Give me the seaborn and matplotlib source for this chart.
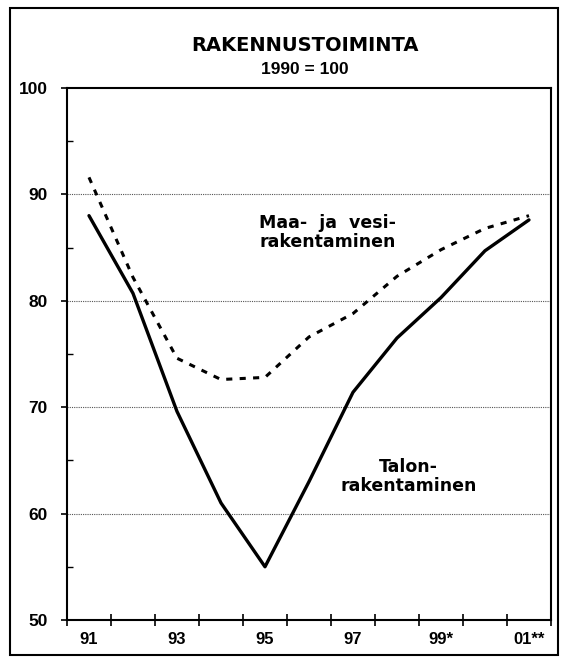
import numpy as np
import pandas as pd
import seaborn as sns
import matplotlib.pyplot as plt
from matplotlib.patches import Rectangle

# data (index 1990 = 100)
years = ["91", "92", "93", "94", "95", "96", "97", "98", "99", "00", "01"]
tick_labels = ["91", "", "93", "", "95", "", "97", "", "99*", "", "01**"]
talon = [88.0, 80.7, 69.6, 61.0, 55.0, 63.0, 71.4, 76.5, 80.3, 84.7, 87.6]
maa_vesi = [91.6, 82.2, 74.6, 72.6, 72.8, 76.6, 78.8, 82.3, 84.8, 86.8, 88.0]

df = pd.DataFrame({
    "pos": np.arange(len(years)),
    "Talonrakentaminen": talon,
    "Maa- ja vesirakentaminen": maa_vesi,
})

sns.set_theme(style="white")
plt.rcParams["font.family"] = ["Liberation Sans", "DejaVu Sans"]
plt.rcParams["text.color"] = "black"
plt.rcParams["xtick.color"] = "black"
plt.rcParams["ytick.color"] = "black"

fig = plt.figure(figsize=(5.62, 6.65), dpi=100)
ax = fig.add_axes([0.1192, 0.0677, 0.8612, 0.8])

sns.lineplot(data=df, x="pos", y="Talonrakentaminen", ax=ax,
             color="black", lw=2.4)
sns.lineplot(data=df, x="pos", y="Maa- ja vesirakentaminen", ax=ax,
             color="black", lw=2.2, linestyle=(0, (2, 2.4)))

ax.set_xlim(-0.5, len(years) - 0.5)
ax.set_ylim(50, 100)
ax.set_xlabel("")
ax.set_ylabel("")

# x: labels at year centres, tick marks at the boundaries
ax.set_xticks(np.arange(len(years)))
ax.set_xticklabels(tick_labels, fontsize=12, fontweight="bold")
ax.set_xticks(np.arange(-0.5, len(years), 1), minor=True)
ax.tick_params(axis="x", which="major", length=0, pad=9)
ax.tick_params(axis="x", which="minor", direction="inout", length=8,
               width=1.2, bottom=True)

ax.set_yticks(np.arange(50, 101, 10))
ax.set_yticklabels([str(v) for v in range(50, 101, 10)], fontsize=12.5,
                   fontweight="bold")
ax.set_yticks(np.arange(55, 100, 10), minor=True)
ax.tick_params(axis="y", which="major", direction="out", length=4,
               width=1.2, pad=10, left=True)
ax.tick_params(axis="y", which="minor", direction="in", length=4,
               width=1.0, left=True)

for v in [60, 70, 80, 90]:
    ax.axhline(v, color="#555555", lw=0.8, ls=(0, (1, 1)), zorder=0)

for s in ax.spines.values():
    s.set_color("black")
    s.set_linewidth(1.5)

ann = dict(fontsize=12.5, fontweight="bold", family="DejaVu Sans",
           ha="center", va="center", linespacing=1.1)
ax.text(5.43, 86.4, "Maa-  ja  vesi-\nrakentaminen", **ann)
ax.text(7.27, 63.5, "Talon-\nrakentaminen", **ann)

fig.text(0.543, 0.931, "RAKENNUSTOIMINTA", ha="center", va="center",
         fontsize=14, fontweight="bold", family="DejaVu Sans")
fig.text(0.543, 0.895, "1990 = 100", ha="center", va="center",
         fontsize=12.5, fontweight="bold")

fig.patches.append(Rectangle((10 / 562, 10 / 665), 548 / 562, 647 / 665,
                             transform=fig.transFigure, fill=False,
                             edgecolor="black", lw=1.5))

fig.savefig("out.png", dpi=100)
